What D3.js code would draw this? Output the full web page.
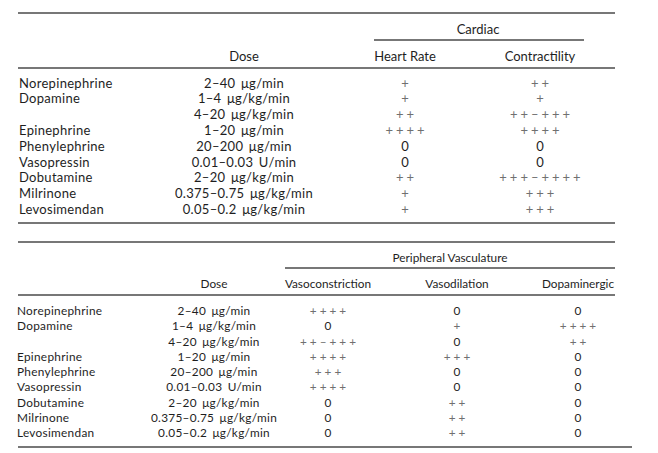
<!DOCTYPE html>
<html><head><meta charset="utf-8">
<script src="https://cdn.jsdelivr.net/npm/d3@7"></script>
<style>
html,body{margin:0;padding:0;background:#fff;}
svg{display:block;}
text{font-family:Lato,"Open Sans",sans-serif;fill:#1e1e1e;}
</style></head><body>
<svg id="c" width="658" height="453"></svg>
<script>
const drugs = ["Norepinephrine","Dopamine","","Epinephrine","Phenylephrine","Vasopressin","Dobutamine","Milrinone","Levosimendan"];
const doses = ["2–40 μg/min","1–4 μg/kg/min","4–20 μg/kg/min","1–20 μg/min","20–200 μg/min","0.01–0.03 U/min","2–20 μg/kg/min","0.375–0.75 μg/kg/min","0.05–0.2 μg/kg/min"];
const heartRate = ["+","+","++","++++","0","0","++","+","+"];
const contractility = ["++","+","++–+++","++++","0","0","+++–++++","+++","+++"];
const vasoconstriction = ["++++","0","++–+++","++++","+++","++++","0","0","0"];
const vasodilation = ["0","+","0","+++","0","0","++","++","++"];
const dopaminergic = ["0","++++","++","0","0","0","0","0","0"];

const cardiacCols = ["Heart Rate","Contractility"];
const periphCols = ["Vasoconstriction","Vasodilation","Dopaminergic"];

const svg = d3.select("#c");

function drawValue(g, x, y, v, fs){
  const t = g.append("text").attr("x", x).attr("y", y).attr("dy","0.35em")
    .attr("text-anchor","middle").style("font-size", fs+"px");
  if (v === "0") { t.text(v).style("fill","#1e1e1e"); }
  else { t.text(v).style("fill","#707070").style("letter-spacing","3px").attr("dx","1.5"); }
}

function hline(x1,x2,y,w){
  svg.append("line").attr("x1",x1).attr("x2",x2).attr("y1",y).attr("y2",y)
    .attr("stroke","#4a4a4a").attr("stroke-width",w||1.5);
}

function drawTable(cfg){
  const rows = d3.range(drugs.length);
  const y = d3.scalePoint().domain(rows).range([cfg.rowTop, cfg.rowBottom]);
  const xCol = d3.scaleOrdinal().domain(cfg.cols).range(cfg.colX);
  const g = svg.append("g");
  hline(18, cfg.topRight, cfg.topLine);
  g.append("text").attr("x", cfg.groupX).attr("y", cfg.groupY).attr("dy","0.35em")
    .attr("text-anchor","middle").style("font-size", cfg.hfs+"px").text(cfg.group);
  hline(cfg.groupLine[0], cfg.groupLine[1], cfg.groupLine[2], 1.3);
  g.append("text").attr("x", cfg.doseX).attr("y", cfg.headY).attr("dy","0.35em")
    .attr("text-anchor","middle").style("font-size", cfg.hfs+"px").text("Dose");
  cfg.cols.forEach(c=>{
    g.append("text").attr("x", xCol(c)).attr("y", cfg.headY).attr("dy","0.35em")
      .attr("text-anchor","middle").style("font-size", cfg.hfs+"px").text(c);
  });
  hline(18, cfg.topRight, cfg.headLine);
  rows.forEach(i=>{
    g.append("text").attr("x", cfg.nameX).attr("y", y(i)).attr("dy","0.35em")
      .style("font-size", cfg.fs+"px").style("letter-spacing","0.3px").text(drugs[i]);
    g.append("text").attr("x", cfg.doseX).attr("y", y(i)).attr("dy","0.35em")
      .attr("text-anchor","middle").style("font-size", cfg.fs+"px")
      .style("letter-spacing","0.3px").style("word-spacing","2px").text(doses[i]);
    cfg.cols.forEach((c,j)=> drawValue(g, xCol(c), y(i), cfg.values[j][i], cfg.fs));
  });
  hline(18, cfg.bottomRight, cfg.bottomLine);
}

drawTable({
  cols: cardiacCols, colX: [405, 540], values: [heartRate, contractility],
  group: "Cardiac", groupX: 478, groupY: 29, groupLine: [374, 584, 40],
  topLine: 13, topRight: 615, headY: 56, headLine: 68, doseX: 244,
  rowTop: 83, rowBottom: 209.5, bottomLine: 223, bottomRight: 615,
  nameX: 19, fs: 13, hfs: 13
});
drawTable({
  cols: periphCols, colX: [328, 457, 578], values: [vasoconstriction, vasodilation, dopaminergic],
  group: "Peripheral Vasculature", groupX: 450, groupY: 258, groupLine: [285, 615, 268],
  topLine: 242, topRight: 615, headY: 284, headLine: 295, doseX: 214,
  rowTop: 311, rowBottom: 433, bottomLine: 447, bottomRight: 632,
  nameX: 17, fs: 11.8, hfs: 11.8
});
</script>
</body></html>
